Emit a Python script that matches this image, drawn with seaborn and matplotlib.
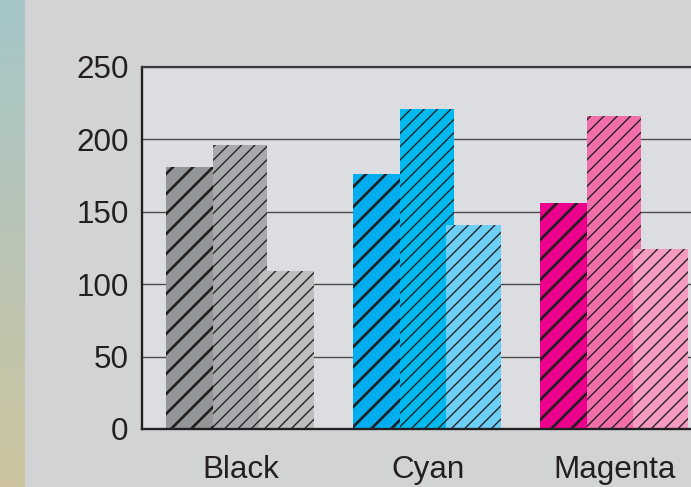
import numpy as np
import pandas as pd
import matplotlib
matplotlib.use("Agg")
import matplotlib.pyplot as plt
from matplotlib.colors import LinearSegmentedColormap
from matplotlib.transforms import ScaledTranslation
import seaborn as sns

# ---- data ----
categories = ["Black", "Cyan", "Magenta"]
series = ["S1", "S2", "S3"]
values_s1 = [181, 176, 156]
values_s2 = [196, 221, 216]
values_s3 = [109, 141, 124]
y_ticks = [0, 50, 100, 150, 200, 250]

bar_colors = {
    "Black":   ["#939598", "#a7a9ac", "#bcbec0"],
    "Cyan":    ["#00aeef", "#00b9ee", "#6dcff6"],
    "Magenta": ["#ec008c", "#f06eaa", "#f59ac1"],
}
hatches = ["//", "///", "///"]
hatch_lw = [1.6, 0.8, 0.8]

df = pd.DataFrame({
    "category": categories * 3,
    "series": [s for s in series for _ in categories],
    "value": values_s1 + values_s2 + values_s3,
})

sns.set_theme(style="white")
plt.rcParams["font.family"] = ["Liberation Sans", "DejaVu Sans"]

DPI = 120
W, H = 691, 487
fig = plt.figure(figsize=(W / DPI, H / DPI), dpi=DPI, facecolor="#d1d3d4")

# left gradient strip
strip = fig.add_axes([0, 0, 24 / W, 1])
cmap = LinearSegmentedColormap.from_list("strip", ["#a5c6c9", "#b9c4b4", "#cdc49f"])
strip.imshow(np.linspace(0, 1, 256).reshape(-1, 1), aspect="auto", cmap=cmap,
             extent=[0, 1, 0, 1], origin="upper")
strip.set_axis_off()

# main axes
left_px, right_px = 142, 703.5
bottom_px, top_px = 429, 67
ax = fig.add_axes([left_px / W, (H - bottom_px) / H,
                   (right_px - left_px) / W, (bottom_px - top_px) / H])
ax.set_facecolor("#dcdde0")

sns.barplot(data=df, x="category", y="value", hue="series", order=categories,
            hue_order=series, width=0.75, dodge=True, legend=False, ax=ax,
            errorbar=None, saturation=1)

bars = sorted(ax.patches, key=lambda p: p.get_x())
extra = 7.5 / 187.0
for i, p in enumerate(bars):
    ci, si = divmod(i, 3)
    p.set_width(p.get_width() + extra)
    p.set_facecolor(bar_colors[categories[ci]][si])
    p.set_edgecolor("#231f20")
    p.set_linewidth(0)
    p.set_hatch(hatches[si])
    if hasattr(p, "set_hatch_linewidth"):
        p.set_hatch_linewidth(hatch_lw[si])

ax.set_xlim(-0.503, 2.5)
ax.set_ylim(0, 250)
ax.set_yticks(y_ticks)
ax.set_yticklabels([str(v) for v in y_ticks])
ax.set_xlabel("")
ax.set_ylabel("")
ax.set_axisbelow(True)
ax.yaxis.grid(True, color="#48484a", linewidth=0.8)
ax.xaxis.grid(False)
ax.tick_params(axis="both", length=0, labelsize=18.8, colors="#231f20")
ax.tick_params(axis="y", pad=8)
ax.tick_params(axis="x", pad=15.5)
shift = ScaledTranslation(5 / DPI, 0, fig.dpi_scale_trans)
for lab in ax.get_xticklabels():
    lab.set_transform(lab.get_transform() + shift)
for s in ["left", "bottom"]:
    ax.spines[s].set_visible(True)
    ax.spines[s].set_color("#231f20")
    ax.spines[s].set_linewidth(1.4)
ax.spines["top"].set_visible(True)
ax.spines["top"].set_color("#3a3a3c")
ax.spines["top"].set_linewidth(1.3)
ax.spines["right"].set_visible(False)

fig.savefig("out.png", dpi=DPI, facecolor=fig.get_facecolor())
